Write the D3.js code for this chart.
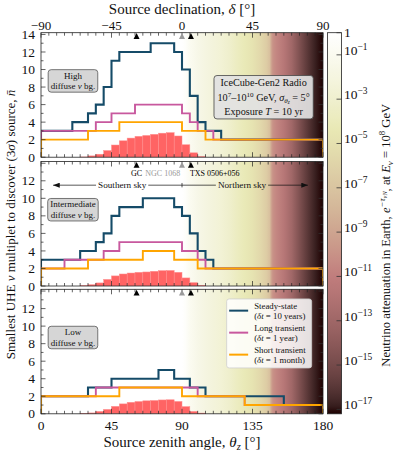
<!DOCTYPE html>
<html>
<head>
<meta charset="utf-8">
<script src="https://cdn.jsdelivr.net/npm/d3@7"></script>
<style>
  body { margin: 0; background: #fff; }
  svg text { font-family: 'Liberation Serif', 'DejaVu Serif', serif; fill: #111; }
</style>
</head>
<body>
<svg id="chart" width="396" height="455"></svg>
<script>
//--------------------------------------------------DATA
// zenith-angle bins, 5 deg wide, 0..180
const zenithEdges = d3.range(0, 185, 5);

// smallest multiplet, high diffuse background
const steadyHigh = [3,3,3,3,4,4,5,6,8,11,12,12,12,12,13,13,13,12,10,7,4,3,3,2,2,2,2,2,2,2,2,2,2,2,2,2];
const longHigh   = [3,3,3,3,3,3,3,4,4,5,5,5,6,6,6,6,6,6,5,4,3,3,2,2,2,2,2,2,2,2,2,2,2,2,2,2];
const shortHigh  = [2,2,2,2,2,2,3,3,3,3,4,4,4,4,4,4,4,4,3,3,3,2,2,2,2,2,2,2,2,2,2,2,2,2,2,2];

// intermediate diffuse background
const steadyMid = [3,3,3,3,3,4,4,5,6,8,9,9,9,10,10,10,10,9,8,6,4,3,2,2,2,2,2,2,2,2,2,2,2,2,2,2];
const longMid   = [2,2,2,3,3,3,3,3,4,4,5,5,5,5,5,5,5,5,4,4,3,2,2,2,2,2,2,2,2,2,2,2,2,2,2,2];
const shortMid  = [2,2,2,2,2,2,3,3,3,3,3,3,3,4,4,4,4,3,3,3,2,2,2,2,2,2,2,2,2,2,2,2,2,2,2,2];

// low diffuse background
const steadyLow = [2,2,2,2,2,2,3,3,3,4,4,4,4,4,4,5,5,4,4,3,3,2,2,2,2,2,2,2,2,2,2,1,1,1,1,1];
const longLow   = [2,2,2,2,2,2,2,3,3,3,3,3,3,3,3,3,3,3,3,3,2,2,2,2,2,2,1,1,1,1,1,1,1,1,1,1];
const shortLow  = [2,2,2,2,2,2,2,2,2,2,3,3,3,3,3,3,3,3,2,2,2,2,2,2,2,2,1,1,1,1,1,1,1,1,1,1];

// filled histogram at the bottom of each panel
const redHigh = [0,0,0,0,0,0.03,0.15,0.34,0.76,1.39,1.87,2.18,2.38,2.48,2.61,2.74,2.8,2.42,1.42,0.5,0.08,0,0,0,0,0,0,0,0,0,0,0,0,0,0,0];
const redMid  = [0,0,0,0,0,0.03,0.15,0.35,0.75,1.15,1.37,1.48,1.56,1.6,1.68,1.75,1.77,1.56,0.92,0.38,0.08,0,0,0,0,0,0,0,0,0,0,0,0,0,0,0];
const redLow  = [0,0,0,0,0,0.03,0.1,0.27,0.5,0.85,1.13,1.31,1.4,1.48,1.52,1.58,1.6,1.41,0.82,0.27,0.08,0,0,0,0,0,0,0,0,0,0,0,0,0,0,0];

// neutrino attenuation in Earth (log10) vs zenith angle
const attenZenith = [0, 90, 92, 95, 100, 105, 110, 115, 120, 125, 130, 135, 140, 144, 146, 147, 148, 150, 155, 160, 165, 170, 175, 180];
const attenLog10  = [0, 0, -0.3, -0.9, -1.5, -1.9, -2.3, -2.6, -3.1, -3.7, -4.2, -4.8, -5.6, -6.5, -7.3, -9.0, -10.0, -10.5, -11.6, -12.9, -14.6, -15.9, -16.8, -17.2];
const attenMin = -17.2;
const cbarTickExps = [0, -1, -3, -5, -7, -9, -11, -13, -15, -17];

const panelNames = ['High', 'Intermediate', 'Low'];
const seriesNames = ['Steady-state', 'Long transient', 'Short transient'];
const seriesNotes = ['10 years', '1 year', '1 month'];
const seriesColors = ['#154b68', '#c8589e', '#ffa500'];

const sourceNames = ['GC', 'NGC 1068', 'TXS 0506+056'];
const sourceDecl = [-29.0, -0.01, 5.69];
const sourceColors = ['#000', '#9a9a9a', '#000'];

const panelData = [
    {steps: [steadyHigh, longHigh, shortHigh], red: redHigh},
    {steps: [steadyMid, longMid, shortMid], red: redMid},
    {steps: [steadyLow, longLow, shortLow], red: redLow}
];

//--------------------------------------------------SETUP
const svg = d3.select('#chart');
const defs = svg.append('defs');

const x = d3.scaleLinear().domain([0, 180]).range([41, 323]);
const xDec = d3.scaleLinear().domain([-90, 90]).range([41, 323]);
const panelTops = [32.7, 161.5, 289.3];
const panelH = 124.5;
const yMax = 14.2;

// matplotlib "pink" colormap: sqrt((2*gray + hot)/3)
const pinkCmap = (t) => {
    const hr = t < 0.365079 ? 0.0416 + (1 - 0.0416) * t / 0.365079 : 1;
    const hg = Math.max(0, Math.min(1, (t - 0.365079) / (0.746032 - 0.365079)));
    const hb = Math.max(0, Math.min(1, (t - 0.746032) / (1 - 0.746032)));
    const f = (h) => Math.round(255 * Math.sqrt((2 * t + h) / 3));
    return d3.rgb(f(hr), f(hg), f(hb)).formatHex();
};
const attenColor = (v) => pinkCmap((v - attenMin) / (0 - attenMin));

// rich text with super/subscripts
const shifts = {base: 0, sup: -0.38, sub: 0.22, subsub: 0.36, supsub: -0.2};
const scales = {base: 1, sup: 0.7, sub: 0.7, subsub: 0.5, supsub: 0.5};
const richText = (sel, segs, size) => {
    let cur = 0;
    segs.forEach(seg => {
        const lvl = seg.s || 'base';
        const shift = shifts[lvl] * size;
        sel.append('tspan')
            .attr('dy', shift - cur)
            .style('font-size', (scales[lvl] * size) + 'px')
            .style('font-style', seg.i ? 'italic' : 'normal')
            .text(seg.t);
        cur = shift;
    });
    return sel;
};

// background gradient along zenith
const bgGrad = defs.append('linearGradient')
    .attr('id', 'bgGrad')
    .attr('gradientUnits', 'userSpaceOnUse')
    .attr('x1', x(0)).attr('x2', x(180))
    .attr('y1', 0).attr('y2', 0);
bgGrad.selectAll('stop')
    .data(attenZenith)
    .enter().append('stop')
    .attr('offset', (d) => d / 180)
    .attr('stop-color', (d, i) => attenColor(attenLog10[i]));

//--------------------------------------------------PANELS
const drawTicksX = (g, top, bottom) => {
    zenithEdges.forEach(z => {
        const len = z % 45 === 0 ? 5 : 3;
        g.append('line').attr('x1', x(z)).attr('x2', x(z))
            .attr('y1', bottom).attr('y2', bottom - len)
            .attr('stroke', '#222').attr('stroke-width', 0.7);
        g.append('line').attr('x1', x(z)).attr('x2', x(z))
            .attr('y1', top).attr('y2', top + len)
            .attr('stroke', '#222').attr('stroke-width', 0.7);
    });
};

const drawPanel = (i) => {
    const top = panelTops[i];
    const bottom = top + panelH;
    const y = d3.scaleLinear().domain([0, yMax]).range([bottom, top]);
    const g = svg.append('g').attr('class', `panel panel${i}`);

    defs.append('clipPath').attr('id', `clip${i}`)
        .append('rect')
        .attr('x', x(0)).attr('y', top)
        .attr('width', x(180) - x(0)).attr('height', panelH);

    g.append('rect')
        .attr('x', x(0)).attr('y', top)
        .attr('width', x(180) - x(0)).attr('height', panelH)
        .attr('fill', 'url(#bgGrad)');

    const inner = g.append('g').attr('clip-path', `url(#clip${i})`);

    // filled histogram
    const bars = panelData[i].red
        .map((v, k) => ({v, k}))
        .filter((d) => d.v > 0);
    inner.append('g').attr('class', 'redBars')
        .selectAll('rect')
        .data(bars)
        .enter().append('rect')
        .attr('x', (d) => x(zenithEdges[d.k]))
        .attr('y', (d) => y(d.v))
        .attr('width', (d) => x(zenithEdges[d.k + 1]) - x(zenithEdges[d.k]))
        .attr('height', (d) => y(0) - y(d.v))
        .attr('fill', '#ff6464')
        .attr('stroke', '#ff9090')
        .attr('stroke-width', 0.5);

    // step histograms
    const line = d3.line()
        .x((d) => x(d[0]))
        .y((d) => y(d[1]))
        .curve(d3.curveStepAfter);
    panelData[i].steps.forEach((vals, s) => {
        const pts = [[0, 0]].concat(vals.map((v, k) => [zenithEdges[k], v]));
        pts.push([180, vals[vals.length - 1]], [180, 0]);
        inner.append('path')
            .attr('d', line(pts))
            .attr('fill', 'none')
            .attr('stroke', seriesColors[s])
            .attr('stroke-width', s === 0 ? 2.1 : 1.9);
    });

    // frame + ticks
    g.append('rect')
        .attr('x', x(0)).attr('y', top)
        .attr('width', x(180) - x(0)).attr('height', panelH)
        .attr('fill', 'none').attr('stroke', '#222').attr('stroke-width', 0.8);

    drawTicksX(g, top, bottom);

    d3.range(0, 15, 1).forEach(v => {
        const len = v % 2 === 0 ? 4.5 : 2.5;
        g.append('line').attr('x1', x(0)).attr('x2', x(0) + len)
            .attr('y1', y(v)).attr('y2', y(v))
            .attr('stroke', '#222').attr('stroke-width', 0.7);
        g.append('line').attr('x1', x(180)).attr('x2', x(180) - len)
            .attr('y1', y(v)).attr('y2', y(v))
            .attr('stroke', '#333').attr('stroke-width', 0.7);
    });

    const yLabels = i === 0 ? d3.range(0, 15, 2) : d3.range(0, 13, 2);
    g.selectAll('.ytl')
        .data(yLabels)
        .enter().append('text')
        .attr('class', 'ytl')
        .attr('x', 35)
        .attr('y', (d) => y(d))
        .attr('dy', '0.34em')
        .attr('text-anchor', 'end')
        .style('font-size', '13.5px')
        .text((d) => d);

    // source markers
    sourceDecl.forEach((dec, k) => {
        const cx = xDec(dec);
        const cy = top + 3.6;
        g.append('path')
            .attr('d', `M${cx},${cy - 3.2} L${cx + 3},${cy + 2.6} L${cx - 3},${cy + 2.6} Z`)
            .attr('fill', sourceColors[k]);
    });

    // background level box
    const box = g.append('g');
    const bcx = x(20.4), bcy = y(8.7);
    const lines = [
        [{t: panelNames[i]}],
        [{t: 'diffuse '}, {t: 'ν', i: true}, {t: ' bg.'}]
    ];
    lines.forEach((segs, k) => {
        richText(box.append('text')
            .attr('x', bcx)
            .attr('y', bcy + (k - 0.5) * 10.5 + 3)
            .attr('text-anchor', 'middle'), segs, 9);
    });
    const bb = box.node().getBBox();
    box.insert('rect', 'text')
        .attr('x', bb.x - 2.5).attr('y', bb.y - 1)
        .attr('width', bb.width + 5).attr('height', bb.height + 2)
        .attr('rx', 3)
        .attr('fill', '#d6d6d6')
        .attr('stroke', '#555').attr('stroke-width', 0.8);

    return y;
};

const yScales = [0, 1, 2].map(drawPanel);

//--------------------------------------------------AXES LABELS
// top: declination
svg.selectAll('.decl')
    .data([-90, -45, 0, 45, 90])
    .enter().append('text')
    .attr('x', (d) => xDec(d))
    .attr('y', 29.5)
    .attr('text-anchor', 'middle')
    .style('font-size', '13px')
    .text((d) => d3.format('')(d));

richText(svg.append('text')
    .attr('x', x(90)).attr('y', 14)
    .attr('text-anchor', 'middle'),
    [{t: 'Source declination, '}, {t: 'δ', i: true}, {t: ' [°]'}], 15);

// bottom: zenith
svg.selectAll('.zen')
    .data([0, 45, 90, 135, 180])
    .enter().append('text')
    .attr('x', (d) => x(d))
    .attr('y', 430)
    .attr('text-anchor', 'middle')
    .style('font-size', '13.5px')
    .text((d) => d);

richText(svg.append('text')
    .attr('x', x(90)).attr('y', 446.5)
    .attr('text-anchor', 'middle'),
    [{t: 'Source zenith angle, '}, {t: 'θ', i: true}, {t: 'z', s: 'sub', i: true}, {t: ' [°]'}], 15);

// y label
richText(svg.append('text')
    .attr('transform', 'translate(14.5, 224.5) rotate(-90)')
    .attr('text-anchor', 'middle'),
    [{t: 'Smallest UHE '}, {t: 'ν', i: true}, {t: ' multiplet to discover (3'}, {t: 'σ', i: true},
     {t: ') source, '}, {t: 'n\u0304', i: true}], 13);

//--------------------------------------------------ANNOTATIONS
// IceCube box in top panel
const yTop = yScales[0];
const ice = svg.append('g');
const iceLines = [
    [{t: 'IceCube-Gen2 Radio'}],
    [{t: '10'}, {t: '7', s: 'sup'}, {t: '–10'}, {t: '10', s: 'sup'}, {t: ' GeV, '}, {t: 'σ', i: true},
     {t: 'θ', s: 'sub', i: true}, {t: 'z', s: 'subsub', i: true}, {t: ' = 5°'}],
    [{t: 'Exposure '}, {t: 'T', i: true}, {t: ' = 10 yr'}]
];
iceLines.forEach((segs, k) => {
    richText(ice.append('text')
        .attr('x', x(142.1))
        .attr('y', yTop(6.84) + (k - 1) * 14.7 + 3.5)
        .attr('text-anchor', 'middle'), segs, 10.2);
});
const ibb = ice.node().getBBox();
ice.insert('rect', 'text')
    .attr('x', ibb.x - 3.5).attr('y', ibb.y - 1.5)
    .attr('width', ibb.width + 7).attr('height', ibb.height + 3)
    .attr('rx', 3)
    .attr('fill', '#e2e2e2').attr('fill-opacity', 0.92)
    .attr('stroke', '#444').attr('stroke-width', 0.8);

// source names and sky arrows in middle panel
const yMid = yScales[1];
const anchors = ['middle', 'end', 'start'];
const offsets = [0, -1.8, -1];
sourceNames.forEach((name, k) => {
    svg.append('text')
        .attr('x', xDec(sourceDecl[k]) + offsets[k])
        .attr('y', yMid(12.85))
        .attr('dy', '0.34em')
        .attr('text-anchor', anchors[k])
        .style('font-size', '8px')
        .style('fill', sourceColors[k])
        .text(name);
});

defs.append('marker')
    .attr('id', 'arrowHead')
    .attr('viewBox', '0 0 8 6')
    .attr('refX', 8).attr('refY', 3)
    .attr('markerWidth', 7).attr('markerHeight', 5)
    .attr('markerUnits', 'userSpaceOnUse')
    .attr('orient', 'auto')
    .append('path').attr('d', 'M0,0 L8,3 L0,6 Z').attr('fill', '#111');

const skyY = yMid(11.5);
const skyLabels = ['Southern sky', 'Northern sky'];
const skyCenters = [51.8, 128.3];
const skyEnds = [7.7, 170.4];
skyLabels.forEach((lab, k) => {
    const t = svg.append('text')
        .attr('x', x(skyCenters[k])).attr('y', skyY)
        .attr('dy', '0.32em')
        .attr('text-anchor', 'middle')
        .style('font-size', '9.2px')
        .text(lab);
    const w = t.node().getComputedTextLength();
    const a = x(skyCenters[k]) - w / 2 - 2;
    const b = x(skyCenters[k]) + w / 2 + 2;
    const near = k === 0 ? b : a;
    const far = k === 0 ? a : b;
    svg.append('line').attr('x1', x(90)).attr('x2', near)
        .attr('y1', skyY).attr('y2', skyY)
        .attr('stroke', '#111').attr('stroke-width', 0.7);
    svg.append('line').attr('x1', far).attr('x2', x(skyEnds[k]))
        .attr('y1', skyY).attr('y2', skyY)
        .attr('stroke', '#111').attr('stroke-width', 0.7)
        .attr('marker-end', 'url(#arrowHead)');
});
svg.append('line').attr('x1', x(90)).attr('x2', x(90))
    .attr('y1', skyY - 2.2).attr('y2', skyY + 2.2)
    .attr('stroke', '#111').attr('stroke-width', 0.7);

// legend in bottom panel
const yLow = yScales[2];
const legL = x(118.5), legT = yLow(13.1);
const leg = svg.append('g');
leg.append('rect')
    .attr('x', legL).attr('y', legT)
    .attr('width', 85).attr('height', 69)
    .attr('rx', 2.5)
    .attr('fill', '#fff').attr('fill-opacity', 0.85)
    .attr('stroke', '#cfcfcf').attr('stroke-width', 0.8);
seriesNames.forEach((name, k) => {
    const ly = legT + 11.7 + k * 22;
    leg.append('line')
        .attr('x1', legL + 2.5).attr('x2', legL + 21.5)
        .attr('y1', ly).attr('y2', ly)
        .attr('stroke', seriesColors[k]).attr('stroke-width', 2);
    leg.append('text')
        .attr('x', legL + 27.5).attr('y', ly - 1.3)
        .style('font-size', '8.8px')
        .text(name);
    richText(leg.append('text')
        .attr('x', legL + 27.5).attr('y', ly + 8.2), [
        {t: '('}, {t: 'δt', i: true}, {t: ' = ' + seriesNotes[k] + ')'}
    ], 8.8);
});

//--------------------------------------------------COLORBAR
const cbX = 327.5, cbW = 14;
const cbTop = panelTops[0], cbBottom = panelTops[2] + panelH;
const cbY = d3.scaleLinear().domain([attenMin, 0]).range([cbBottom, cbTop]);

const cbGrad = defs.append('linearGradient')
    .attr('id', 'cbGrad')
    .attr('x1', 0).attr('x2', 0).attr('y1', 1).attr('y2', 0);
cbGrad.selectAll('stop')
    .data(d3.range(0, 1.0001, 0.02))
    .enter().append('stop')
    .attr('offset', (d) => d)
    .attr('stop-color', (d) => pinkCmap(d));

svg.append('rect')
    .attr('x', cbX).attr('y', cbTop)
    .attr('width', cbW).attr('height', cbBottom - cbTop)
    .attr('fill', 'url(#cbGrad)')
    .attr('stroke', '#222').attr('stroke-width', 0.8);

cbarTickExps.forEach(e => {
    svg.append('line')
        .attr('x1', cbX + cbW - 5).attr('x2', cbX + cbW)
        .attr('y1', cbY(e)).attr('y2', cbY(e))
        .attr('stroke', '#333').attr('stroke-width', 0.8);
    const t = svg.append('text')
        .attr('x', cbX + cbW + 2.5)
        .attr('y', cbY(e))
        .attr('dy', e === 0 ? '0.34em' : '0.5em');
    if (e === 0) {
        t.style('font-size', '13.5px').text('1');
    } else {
        richText(t, [{t: '10'}, {t: '−' + Math.abs(e), s: 'sup'}], 13.5);
    }
});

richText(svg.append('text')
    .attr('transform', `translate(390, ${(cbTop + cbBottom) / 2 + 12}) rotate(-90)`)
    .attr('text-anchor', 'middle'), [
    {t: 'Neutrino attenuation in Earth, '}, {t: 'e', i: true}, {t: '−τ', s: 'sup', i: true},
    {t: 'νN', s: 'supsub', i: true}, {t: ', at '}, {t: 'E', i: true}, {t: 'ν', s: 'sub', i: true},
    {t: ' = 10'}, {t: '8', s: 'sup'}, {t: ' GeV'}
], 12.6);
</script>
</body>
</html>
